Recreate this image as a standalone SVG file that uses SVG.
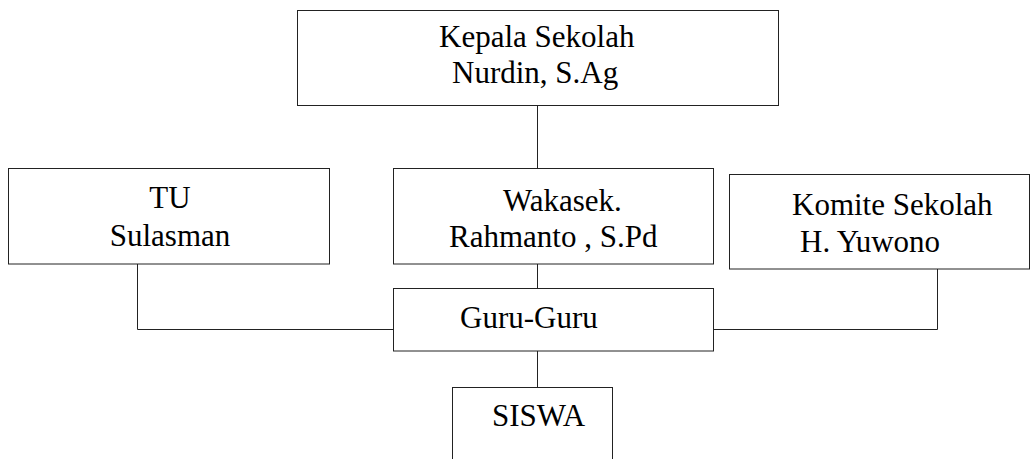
<svg xmlns="http://www.w3.org/2000/svg" width="1030" height="459" viewBox="0 0 1030 459">
<style>
.box{fill:#fff;stroke:#222;stroke-width:1}
.conn{fill:none;stroke:#222;stroke-width:1}
text{font-family:"Liberation Serif","Times New Roman",serif;font-size:31px;fill:#000}
</style>
<rect width="1030" height="459" fill="#fff"/>
<g id="connectors">
<path class="conn" d="M537.5 105.5 V168.5"/>
<path class="conn" d="M537.5 264 V288.5"/>
<path class="conn" d="M537.5 351 V387.5"/>
<path class="conn" d="M137.5 264 V329.5 H393.5"/>
<path class="conn" d="M937.5 269 V329.5 H713.5"/>
</g>
<g id="kepala">
<rect class="box" x="297.5" y="10.5" width="481" height="95"/>
<text x="439" y="47">Kepala Sekolah</text>
<text x="452" y="83">Nurdin, S.Ag</text>
</g>
<g id="tu">
<rect class="box" x="8.5" y="168.5" width="321" height="95.5"/>
<text x="170" y="208" text-anchor="middle">TU</text>
<text x="170" y="246" text-anchor="middle">Sulasman</text>
</g>
<g id="wakasek">
<rect class="box" x="393.5" y="168.5" width="320" height="95.5"/>
<text x="503" y="211">Wakasek.</text>
<text x="449" y="247">Rahmanto , S.Pd</text>
</g>
<g id="komite">
<rect class="box" x="729.5" y="174.5" width="300" height="94.5"/>
<text x="792" y="215">Komite Sekolah</text>
<text x="800" y="252">H. Yuwono</text>
</g>
<g id="guru">
<rect class="box" x="393.5" y="288.5" width="320" height="62.5"/>
<text x="460" y="328">Guru-Guru</text>
</g>
<g id="siswa">
<rect class="box" x="452.5" y="387.5" width="160" height="100"/>
<text x="492" y="426">SISWA</text>
</g>
</svg>
